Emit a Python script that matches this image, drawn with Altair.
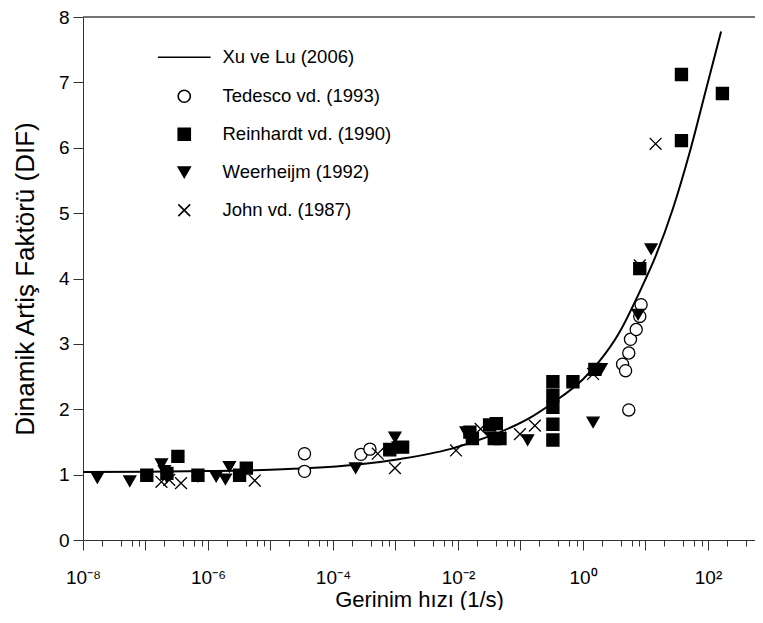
import altair as alt
import pandas as pd

# ---- data ----
# Xu ve Lu (2006) curve
curve_rate = [1e-8, 1e-7, 1e-6, 1e-5, 4.3e-5, 2.3e-4, 1.2e-3, 7.4e-3, 1.74e-2, 4.7e-2,
              0.16, 0.33, 1.0, 1.78, 3.9, 8.1, 14.8, 27.5, 51, 93, 162]
curve_dif = [1.04, 1.045, 1.055, 1.075, 1.10, 1.15, 1.24, 1.39, 1.50, 1.65,
             1.90, 2.10, 2.46, 2.72, 3.19, 3.80, 4.36, 5.07, 5.93, 6.89, 7.78]

# Tedesco vd. (1993)
ted_rate = [3.5e-5, 3.5e-5, 2.8e-4, 3.9e-4, 4.3, 4.8, 5.4, 5.75, 7.1, 8.1, 8.5, 5.4]
ted_dif = [1.32, 1.05, 1.31, 1.39, 2.69, 2.59, 2.86, 3.07, 3.22, 3.42, 3.60, 1.99]

# Reinhardt vd. (1990)
rei_rate = [1.05e-7, 3.3e-7, 2.2e-7, 6.9e-7, 3.2e-6, 4.1e-6, 8.1e-4, 1.3e-3, 1.55e-2, 1.7e-2,
            3.2e-2, 4.1e-2, 3.8e-2, 4.7e-2, 0.33, 0.33, 0.33, 0.33, 0.33, 0.69, 1.55,
            8.1, 37.6, 37.6, 170]
rei_dif = [0.99, 1.28, 1.02, 0.99, 0.99, 1.10, 1.38, 1.42, 1.65, 1.55,
           1.76, 1.78, 1.55, 1.55, 2.42, 2.21, 2.03, 1.77, 1.53, 2.42, 2.61,
           4.15, 6.11, 7.12, 6.83]

# Weerheijm (1992)
wee_rate = [1.7e-8, 5.6e-8, 1.8e-7, 2.0e-7, 2.2e-7, 6.9e-7, 1.35e-6, 1.9e-6, 2.2e-6,
            2.3e-4, 9.8e-4, 8.1e-4, 1.1e-3, 1.35e-2, 1.65e-2, 3.4e-2, 0.13, 1.45, 1.95,
            7.6, 12.3]
wee_dif = [0.95, 0.90, 1.16, 1.06, 0.96, 0.97, 0.97, 0.93, 1.12,
           1.10, 1.57, 1.40, 1.42, 1.65, 1.55, 1.57, 1.53, 1.80, 2.62,
           3.45, 4.45]

# John vd. (1987)
joh_rate = [1.8e-7, 2.4e-7, 3.7e-7, 5.6e-6, 5.2e-4, 9.8e-4, 9.3e-3, 2.3e-2, 4.7e-2,
            9.8e-2, 0.17, 1.45, 8.1, 14.5]
joh_dif = [0.89, 0.92, 0.87, 0.91, 1.32, 1.10, 1.37, 1.70, 1.57,
           1.62, 1.75, 2.54, 4.20, 6.06]

names = ["Xu ve Lu (2006)", "Tedesco vd. (1993)", "Reinhardt vd. (1990)",
         "Weerheijm (1992)", "John vd. (1987)"]

x_major = [1e-8, 1e-7, 1e-6, 1e-5, 1e-4, 1e-3, 1e-2, 1e-1, 1e0, 1e1, 1e2]
x_minor_mult = [2, 4, 6, 8]
y_ticks = [0, 0.5, 1, 1.5, 2, 2.5, 3, 3.5, 4, 4.5, 5, 5.5, 6, 6.5, 7, 7.5, 8]
x_labels = ["10⁻⁸", "10⁻⁷", "10⁻⁶", "10⁻⁵", "10⁻⁴", "10⁻³", "10⁻²", "10⁻¹", "10⁰", "10¹", "10²"]

# ---- build tables ----
curve_df = pd.DataFrame({"rate": curve_rate, "dif": curve_dif})
frames = []
for nm, r, d in [(names[1], ted_rate, ted_dif), (names[2], rei_rate, rei_dif),
                 (names[3], wee_rate, wee_dif), (names[4], joh_rate, joh_dif)]:
    frames.append(pd.DataFrame({"rate": r, "dif": d, "series": nm}))
pts_df = pd.concat(frames, ignore_index=True)

W, H = 672, 523
XMAX = 565.0
x_vals = list(x_major)
for k in range(-8, 3):
    for m in x_minor_mult:
        v = float(f"{m}e{k}")
        if v <= XMAX:
            x_vals.append(v)
x_vals.sort()

FONT = "Liberation Sans"
lg = "round(log(datum.value)/LN10)"
is_major = f"abs(log(datum.value)/LN10 - {lg}) < 0.01"
lab_arr = "[" + ",".join(f"'{s}'" for s in x_labels) + "]"

x_axis = alt.Axis(
    values=x_vals,
    labelExpr=f"({is_major}) && ({lg} % 2 == 0) ? {lab_arr}[{lg}+8] : ''",
    tickSize={"condition": {"test": is_major, "value": 10}, "value": 6},
    grid=False, labelOverlap=False, labelFlush=False,
    domainColor="#333", tickColor="#333", labelColor="black",
    labelFont=FONT, labelFontSize=19, labelPadding=18,
    titleFont=FONT, titleFontSize=22, titleFontWeight="normal", titleColor="black",
    titlePadding=2,
)
y_axis = alt.Axis(
    values=y_ticks,
    labelExpr="datum.value % 1 == 0 ? format(datum.value, 'd') : ''",
    tickSize={"condition": {"test": "datum.value % 1 == 0", "value": 10}, "value": 6},
    grid=False, labelOverlap=False, labelFlush=False,
    domainColor="#333", tickColor="#333", labelColor="black",
    labelFont=FONT, labelFontSize=19, labelPadding=4,
    titleFont=FONT, titleFontSize=26, titleFontWeight="normal", titleColor="black",
    titlePadding=20,
)

x_scale = alt.Scale(type="log", domain=[1e-8, XMAX], nice=False)
y_scale = alt.Scale(domain=[0, 8], nice=False)

line = alt.Chart(curve_df).mark_line(color="black", strokeWidth=2, interpolate="monotone").encode(
    x=alt.X("rate:Q", scale=x_scale, axis=x_axis, title="Gerinim hızı (1/s)"),
    y=alt.Y("dif:Q", scale=y_scale, axis=y_axis, title="Dinamik Artiş Faktörü (DIF)"),
)

line_path = "M-4.3,0L4.3,0"
cross_path = "M-1,-1L1,1M-1,1L1,-1"
legend = alt.Legend(
    orient="none", legendX=92, legendY=31, title=None, padding=0,
    labelFont=FONT, labelFontSize=18.5, labelColor="black", labelLimit=400,
    labelOffset=29, rowPadding=19,
    symbolStrokeWidth=1.6, symbolOpacity=1,
)
points = alt.Chart(pts_df).mark_point(strokeWidth=1.3, opacity=1).encode(
    x=alt.X("rate:Q", scale=x_scale),
    y=alt.Y("dif:Q", scale=y_scale),
    shape=alt.Shape("series:N", scale=alt.Scale(domain=names,
                    range=[line_path, "circle", "square", "triangle-down", cross_path]), legend=legend),
    fill=alt.Fill("series:N", scale=alt.Scale(domain=names,
                  range=["transparent", "white", "black", "black", "transparent"]), legend=legend),
    stroke=alt.Stroke("series:N", scale=alt.Scale(domain=names,
                      range=["black", "black", "black", "black", "black"]), legend=legend),
    size=alt.Size("series:N", scale=alt.Scale(domain=names, range=[150, 140, 130, 170, 150]), legend=legend),
)

top = alt.Chart(pd.DataFrame({"a": [0]})).mark_rule(color="#444", strokeWidth=1.5).encode(
    x=alt.value(0), x2=alt.value(W), y=alt.value(0)
)

chart = alt.layer(line, points, top).properties(
    width=W, height=H,
    autosize=alt.AutoSizeParams(type="none"),
    padding={"left": 75, "top": 9, "right": 0, "bottom": 70},
).configure_view(strokeWidth=0)

chart.save("out.html", embed_options={"renderer": "svg", "actions": False})
